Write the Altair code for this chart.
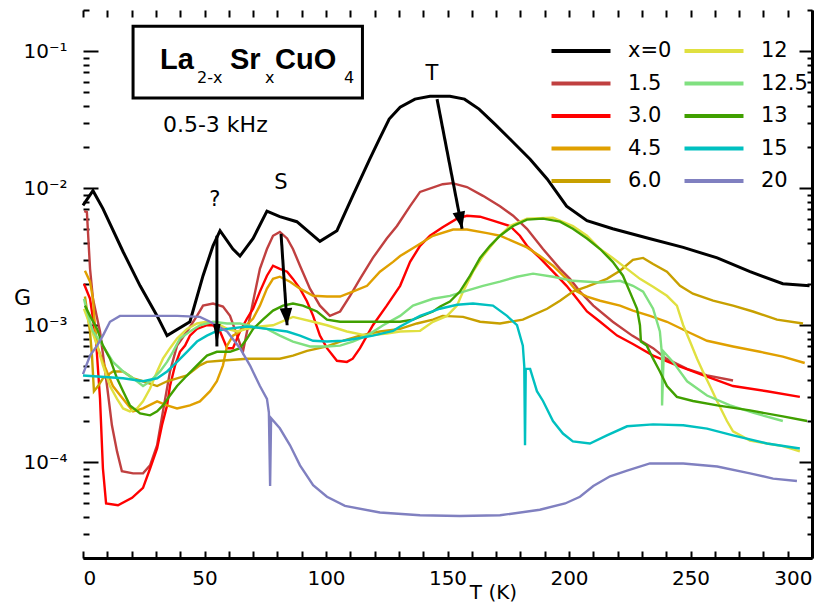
import altair as alt
import pandas as pd

# ---- series data: (T in K, G) ----
S_X0 = [(0,0.0075),(4.1,0.0096),(8.2,0.0071),(16.5,0.00344),(23.5,0.00194),(30.5,0.00117),(34.6,0.00084),(44,0.00106),(49.4,0.0023),(53.5,0.0038),(56.4,0.0049),(61.7,0.0036),(64.6,0.0032),(70,0.0043),(75.7,0.0068),(81,0.0062),(88,0.0057),(97.5,0.0041),(104.5,0.0049),(111,0.0088),(118,0.0163),(122,0.0229),(126,0.032),(130.5,0.039),(136.6,0.0447),(142.8,0.047),(151,0.047),(157,0.0447),(163,0.0378),(169.5,0.0294),(175.7,0.0229),(184,0.0163),(191,0.0117),(199,0.0074),(207.4,0.0058),(218,0.00506),(233,0.0043),(247,0.0037),(261,0.0031),(274.5,0.00246),(288,0.00201),(299,0.00194)]
S_1_5 = [(0.5,0.0068),(1.6,0.0067),(2.2,0.0043),(2.9,0.00258),(4.1,0.00156),(7,0.0009),(9.9,0.00036),(11.9,0.000186),(14,0.00012),(16,8.6e-5),(20.6,8.3e-5),(24.7,8.3e-5),(27.6,9.5e-5),(30.5,1.33e-4),(32.9,2.35e-4),(35.8,4.6e-4),(38.7,7.1e-4),(42.8,9.0e-4),(46.9,0.00117),(49.4,0.00139),(53.5,0.00144),(57.6,0.00137),(60.5,0.00117),(63.4,0.00084),(65.8,6.4e-4),(67.5,0.0009),(70,0.00149),(72.8,0.00258),(75.7,0.0036),(78.2,0.0045),(81,0.0048),(84,0.0043),(86.4,0.0036),(89.3,0.00272),(93.4,0.00185),(97.5,0.00139),(101.6,0.00117),(105.8,0.00126),(109.9,0.00164),(114,0.00218),(119.3,0.0031),(125,0.0043),(129.2,0.0053),(134.6,0.0074),(138.7,0.0094),(148,0.0107),(152,0.0109),(158,0.0102),(164.6,0.0088),(171.6,0.0074),(177,0.0063),(182.7,0.00506),(189.3,0.0036),(196.3,0.00258),(200.4,0.00218),(204.5,0.00176),(210,0.00139),(218,0.00106),(226,0.00084),(234.6,6.8e-4),(240,5.7e-4),(248.6,4.8e-4),(256.8,4.3e-4),(267.5,3.95e-4)]
S_3_0 = [(0.4,0.00201),(2.9,0.00156),(5.3,0.0008),(7,2.92e-4),(8.2,9.0e-5),(9.5,5.0e-5),(14.4,4.85e-5),(20.2,5.5e-5),(24.7,6.5e-5),(27.6,9.0e-5),(30.5,1.26e-4),(32.5,1.86e-4),(34.6,2.6e-4),(35.8,3.6e-4),(37.9,5.1e-4),(39.9,6.4e-4),(42,7.1e-4),(44,8.4e-4),(46.9,9.4e-4),(51,0.001),(53.5,0.001),(56.4,9.0e-4),(59.3,6.8e-4),(61.7,6.8e-4),(64.6,9.0e-4),(67.5,0.00112),(70,0.00132),(72.8,0.00176),(75.7,0.0023),(78.2,0.00272),(81,0.00258),(84,0.00246),(86.4,0.00218),(89.3,0.00185),(92.2,0.00149),(94.7,0.00117),(97.5,8.4e-4),(100.4,6.8e-4),(104.5,5.5e-4),(108.6,5.4e-4),(111,5.7e-4),(114,6.8e-4),(119.3,0.001),(125,0.00139),(130.5,0.00194),(134.6,0.0029),(138.7,0.0038),(142.8,0.0045),(148,0.0052),(153.9,0.006),(158,0.0063),(163.4,0.0062),(168.7,0.0058),(175.7,0.0053),(179.8,0.0045),(182.7,0.0038),(188,0.0031),(195,0.0023),(199,0.00194),(203.3,0.00156),(207.4,0.00126),(212.8,0.00106),(219.8,8.4e-4),(226.3,7.3e-4),(234.6,6.0e-4),(244.4,5.1e-4),(254,4.4e-4),(267.5,3.6e-4),(281.5,3.3e-4),(295,3.0e-4)]
S_4_5 = [(0.8,0.0025),(2.9,0.00208),(4.1,0.00156),(4.9,0.001),(5.8,7.1e-4),(8.2,5.4e-4),(12.3,3.6e-4),(16.5,2.9e-4),(20.6,2.35e-4),(24.7,2.47e-4),(30.5,2.78e-4),(34.6,2.6e-4),(38.7,2.47e-4),(44,2.6e-4),(48.1,2.78e-4),(52.3,3.3e-4),(55.1,3.9e-4),(57.6,5.1e-4),(59.3,7.1e-4),(61.7,8.4e-4),(64.6,9.0e-4),(70,0.00112),(72.8,0.00139),(75.7,0.00185),(78.2,0.00218),(81,0.00226),(85.2,0.00208),(89.3,0.00185),(94.7,0.00164),(100.4,0.00162),(105.8,0.00162),(111,0.00176),(116.9,0.00194),(122.2,0.00246),(127.6,0.0029),(130.5,0.0032),(137.4,0.0038),(144,0.0045),(152.3,0.005),(158,0.005),(166.3,0.0047),(171.6,0.0045),(177,0.0041),(182.7,0.0037),(188,0.0032),(193.4,0.00272),(199,0.00218),(203.3,0.00176),(207.4,0.00162),(212.8,0.00151),(221,0.00139),(226.3,0.00128),(233.3,0.00117),(240.3,0.00106),(248.6,9.0e-4),(256.8,7.7e-4),(267.5,7.0e-4),(278.6,6.4e-4),(288,5.9e-4),(297,5.3e-4)]
S_6_0 = [(0.8,0.00162),(2.9,8.9e-4),(3.7,6.0e-4),(4.5,3.3e-4),(6.2,3.6e-4),(8.2,4.1e-4),(12.3,4.6e-4),(16.5,4.6e-4),(20.6,4.1e-4),(24.7,3.9e-4),(30.5,3.6e-4),(34.6,3.9e-4),(38.7,4.1e-4),(42.8,4.3e-4),(48.1,5.1e-4),(51,5.4e-4),(56.4,5.5e-4),(67.5,5.7e-4),(81,5.7e-4),(86.4,6.0e-4),(92.2,6.5e-4),(100.4,7.0e-4),(105.8,7.6e-4),(114,8.4e-4),(122.2,9.0e-4),(130.5,9.4e-4),(137.4,0.00103),(144,0.0011),(148,0.00117),(156.4,0.00115),(163.4,0.00106),(171.6,0.00103),(181,0.0011),(191,0.00132),(196.3,0.00151),(201.6,0.00176),(207.4,0.00191),(215.6,0.00218),(221,0.0025),(226.3,0.003),(230.5,0.0031),(234.6,0.0028),(240.3,0.00246),(245.7,0.00194),(251,0.0017),(259.3,0.00151),(267.5,0.00139),(275.7,0.00126),(285.6,0.0011),(296.3,0.00103)]
S_12 = [(0.4,0.00132),(2.9,0.001),(5.8,7.1e-4),(8.2,5.1e-4),(11.1,3.6e-4),(14,2.9e-4),(16.5,2.47e-4),(19.3,2.35e-4),(22.2,2.47e-4),(24.7,2.78e-4),(27.6,3.45e-4),(30.5,4.6e-4),(32.9,5.7e-4),(35.8,6.8e-4),(38.7,8.0e-4),(42.8,9.4e-4),(46.9,0.00103),(51,0.00106),(55.1,0.00103),(59.3,9.4e-4),(63.4,9.0e-4),(67.5,9.4e-4),(72.8,9.8e-4),(78.2,0.001),(86.4,0.00115),(94.7,0.00106),(100.4,0.001),(108.6,9.0e-4),(116.9,8.4e-4),(125,8.7e-4),(130.5,9.0e-4),(138.7,9.1e-4),(144,0.00106),(149.8,0.00117),(153.9,0.00139),(156.4,0.00176),(160.5,0.00246),(164.6,0.0032),(170.4,0.0043),(175.7,0.0053),(182.7,0.006),(193.4,0.0061),(201.6,0.0053),(207.4,0.0045),(212.8,0.0036),(218,0.0031),(223.9,0.00258),(229.2,0.00218),(234.6,0.00191),(240.3,0.00164),(244.4,0.00139),(247,0.001),(249.8,7.6e-4),(252.7,5.7e-4),(255.1,4.6e-4),(258,3.6e-4),(261,2.78e-4),(265,2.0e-4),(267.5,1.68e-4),(274.5,1.44e-4),(281.5,1.37e-4),(288,1.31e-4),(295,1.2e-4)]
S_12_5 = [(0.4,0.00156),(1.6,0.00126),(4.1,9.0e-4),(8.2,7.1e-4),(12.3,5.4e-4),(16.5,4.6e-4),(20.6,4.1e-4),(24.7,3.6e-4),(27.6,3.9e-4),(31.7,4.6e-4),(34.6,5.4e-4),(37,6.4e-4),(39.9,8.0e-4),(44,9.0e-4),(48.1,0.001),(53.5,0.00106),(59.3,0.00103),(64.6,0.00103),(70,9.8e-4),(75.7,9.4e-4),(81,8.4e-4),(86.4,7.6e-4),(93.4,7.0e-4),(100.4,7.0e-4),(105.8,7.1e-4),(111,7.6e-4),(116.9,8.4e-4),(123.5,0.001),(130.5,0.00117),(135.8,0.00139),(144,0.00156),(151,0.00164),(158,0.00179),(164.6,0.00194),(171.6,0.00208),(178.6,0.00226),(185.2,0.00238),(193.4,0.00226),(201.6,0.00211),(212.8,0.00205),(221,0.00211),(226.3,0.00194),(230.5,0.00176),(234.6,0.00132),(237.4,9.0e-4),(238.3,6.0e-4),(238.3,2.6e-4),(239,6.4e-4),(242.8,5.4e-4),(248.6,3.9e-4),(256.8,3.07e-4),(266.3,2.6e-4),(275.7,2.3e-4),(288,2.0e-4)]
S_13 = [(0.8,0.00139),(2.9,0.00117),(5.8,9.4e-4),(8.2,7.1e-4),(11.1,5.7e-4),(14,4.1e-4),(16.5,3.3e-4),(19.3,2.6e-4),(23.5,2.27e-4),(27.6,2.2e-4),(30.5,2.35e-4),(32.9,2.6e-4),(35.8,3.07e-4),(38.7,3.6e-4),(42.8,4.3e-4),(46.9,5.1e-4),(51,6.0e-4),(55.1,6.4e-4),(60.5,6.4e-4),(64.6,6.8e-4),(67.5,8.0e-4),(70,9.4e-4),(74,0.0011),(78.2,0.00128),(82.3,0.00139),(86.4,0.00144),(90.5,0.00139),(96.3,0.00126),(100.4,0.0011),(105.8,0.00106),(122.2,0.00106),(130.5,0.00106),(135.8,0.0011),(144,0.00126),(147,0.00137),(151,0.00149),(155.1,0.00176),(159.3,0.0023),(163.4,0.0031),(167.5,0.0038),(171.6,0.0045),(177,0.0053),(182.7,0.0059),(189.3,0.006),(196.3,0.0057),(201.6,0.00506),(207.4,0.0043),(212.8,0.0036),(218,0.0029),(222.2,0.0023),(225,0.00176),(228,0.00132),(229.2,0.001),(229.6,7.6e-4),(232,7.1e-4),(234.6,5.7e-4),(237.4,4.6e-4),(240.3,3.6e-4),(244.4,3.0e-4),(251,2.8e-4),(261,2.6e-4),(274.5,2.39e-4),(288,2.16e-4),(298,2.0e-4)]
S_15 = [(0,4.3e-4),(16.5,4.1e-4),(24.7,3.9e-4),(30.5,4.1e-4),(34.6,4.6e-4),(38.7,5.4e-4),(42.8,6.4e-4),(46.9,7.6e-4),(51,8.4e-4),(55.1,9.1e-4),(59.3,9.4e-4),(67.5,9.8e-4),(75.7,9.4e-4),(84,9.0e-4),(89.3,8.4e-4),(94.7,7.7e-4),(100.4,7.6e-4),(107,7.7e-4),(112.8,8.0e-4),(119.3,8.4e-4),(127.6,9.1e-4),(130.5,9.8e-4),(138.7,0.00117),(146.9,0.00132),(153.9,0.00141),(160.5,0.00144),(168.7,0.00139),(174.5,0.00117),(178.6,0.001),(181,7.1e-4),(181.6,5.0e-4),(181.9,1.33e-4),(182.2,4.8e-4),(184,4.8e-4),(186.8,3.3e-4),(189.3,2.8e-4),(193.4,2.0e-4),(197.5,1.62e-4),(201.6,1.42e-4),(208.6,1.37e-4),(215.6,1.57e-4),(223.9,1.83e-4),(234.6,1.89e-4),(247,1.86e-4),(256.8,1.76e-4),(267.5,1.57e-4),(281.5,1.37e-4),(295,1.26e-4)]
S_20 = [(0,4.4e-4),(2.9,6.0e-4),(5.8,7.1e-4),(8.2,8.4e-4),(11.1,0.00106),(15.2,0.00117),(24.7,0.00117),(38.7,0.00117),(48.1,0.00115),(52.3,0.00106),(59.3,9.0e-4),(64.6,6.8e-4),(68.7,5.1e-4),(72.8,3.6e-4),(75.7,2.9e-4),(76.5,2.3e-4),(77,6.7e-5),(77.4,2.1e-4),(81,1.77e-4),(85.2,1.33e-4),(89.3,9.5e-5),(94.7,6.8e-5),(100.4,5.6e-5),(107.8,4.8e-5),(122.2,4.3e-5),(138.7,4.1e-5),(155,4.05e-5),(171.6,4.1e-5),(188,4.5e-5),(198.4,5.0e-5),(204.5,5.6e-5),(210,6.7e-5),(216.9,7.9e-5),(223.9,8.7e-5),(233.3,9.8e-5),(247,9.8e-5),(261,9.3e-5),(274.5,8.3e-5),(284,7.6e-5),(293.8,7.3e-5)]

SERIES_NAMES = ["x=0", "1.5", "3.0", "4.5", "6.0", "12", "12.5", "13", "15", "20"]
SERIES_DATA = [S_X0, S_1_5, S_3_0, S_4_5, S_6_0, S_12, S_12_5, S_13, S_15, S_20]
SERIES_COLORS = ["#000000", "#c04040", "#ff0000", "#e0a000", "#c8a000",
                 "#e0e040", "#80e080", "#40a000", "#00c0c0", "#8080c0"]

# axis values
X_LABELS = [0, 50, 100, 150, 200, 250, 300]
X_TICKS = list(range(0, 301, 10))
Y_DECADES = [1e-4, 1e-3, 1e-2, 1e-1]
Y_TICKS = [m * 10.0 ** e for e in range(-5, 0) for m in range(1, 10)]
Y_TICKS = [v for v in Y_TICKS if 1.99e-5 <= v <= 0.201]

# annotations (data coordinates)
ARROW_T1 = [55.1, 81.5, 145.7]
ARROW_G1 = [0.0045, 0.00465, 0.0447]
ARROW_T2 = [55.1, 84.0, 156.0]
ARROW_G2 = [7.0e-4, 0.001, 0.00506]
HEAD_ANGLE = [0, 356, 349]
HEAD_SHAPE = ["M-0.4,-2.5L0.4,-2.5L0,0Z", "M-0.7,-1.9L0.7,-1.9L0,0Z", "M-0.7,-1.9L0.7,-1.9L0,0Z"]
PEAK_LABELS = ["?", "S", "T"]
PEAK_T = [54.3, 81.5, 143.6]
PEAK_G = [0.0082, 0.0109, 0.068]
BOX_T = [20.6, 115.0]
BOX_G = [0.152, 0.0455]
FORMULA_MAIN = ["La", "Sr", "CuO"]
FORMULA_MAIN_T = [31.7, 60.5, 79.0]
FORMULA_MAIN_G = [0.074, 0.074, 0.074]
FORMULA_SUB = ["2-x", "x", "4"]
FORMULA_SUB_T = [46.9, 74.9, 107.4]
FORMULA_SUB_G = [0.0590, 0.0590, 0.0590]
FREQ = "0.5-3 kHz"
FREQ_T, FREQ_G = 32.9, 0.0289

rows = []
for name, pts in zip(SERIES_NAMES, SERIES_DATA):
    for i, (t, g) in enumerate(pts):
        rows.append({"series": name, "T": t, "G": g, "i": i})
df = pd.DataFrame(rows)

arrows = pd.DataFrame({"t1": ARROW_T1, "g1": ARROW_G1, "t2": ARROW_T2, "g2": ARROW_G2,
                       "angle": HEAD_ANGLE, "shape": HEAD_SHAPE})
peaks = pd.DataFrame({"label": PEAK_LABELS, "t": PEAK_T, "g": PEAK_G})
box = pd.DataFrame({"t1": [BOX_T[0]], "t2": [BOX_T[1]], "g1": [BOX_G[0]], "g2": [BOX_G[1]]})
f_main = pd.DataFrame({"label": FORMULA_MAIN, "t": FORMULA_MAIN_T, "g": FORMULA_MAIN_G})
f_sub = pd.DataFrame({"label": FORMULA_SUB, "t": FORMULA_SUB_T, "g": FORMULA_SUB_G})
freq = pd.DataFrame({"label": [FREQ], "t": [FREQ_T], "g": [FREQ_G]})

FONT = "DejaVu Sans"
BOLD_FONT = "Liberation Sans"
W, H = 729, 548
xs = alt.Scale(domain=[0, 300], nice=False)
ys = alt.Scale(type="log", domain=[2e-5, 0.2], nice=False)

major_test = "abs(log(datum.value)/LN10 - round(log(datum.value)/LN10)) < 0.01"
y_label_expr = ("round(log(datum.value)/LN10) == -1 ? '10⁻¹' : "
                "round(log(datum.value)/LN10) == -2 ? '10⁻²' : "
                "round(log(datum.value)/LN10) == -3 ? '10⁻³' : "
                "round(log(datum.value)/LN10) == -4 ? '10⁻⁴' : ''")

# axes
ax_x_labels = alt.Axis(values=X_LABELS, ticks=False, domain=True, domainColor="black", domainWidth=3,
                       grid=False, labelFont=FONT, labelFontSize=20, labelColor="black", labelPadding=10,
                       format="d", title="T (K)", titleFont=FONT, titleFontSize=20, titleFontWeight="normal",
                       titleColor="black", titleX=410, titleY=34, titleBaseline="middle", titleAlign="center")
ay_labels = alt.Axis(values=Y_DECADES, ticks=False, domain=False, grid=False, labelExpr=y_label_expr,
                     labelFont=FONT, labelFontSize=20, labelColor="black", labelPadding=16,
                     title="G", titleAngle=0, titleFont=FONT, titleFontSize=22, titleFontWeight="normal",
                     titleColor="black", titleX=-61, titleY=287, titleAlign="center", titleBaseline="middle")
ax_bottom_ticks = alt.Axis(orient="top", offset=-H, values=X_TICKS, labels=False, domain=False, grid=False,
                           tickSize=7, tickWidth=2, tickColor="black", title=None)
ay_left_ticks = alt.Axis(orient="right", offset=-W, values=Y_TICKS, labels=False, domain=False, grid=False,
                         tickSize={"condition": {"test": major_test, "value": 15}, "value": 6},
                         tickWidth=2, tickColor="black", title=None)
ax_top_ticks = alt.Axis(orient="bottom", offset=-H, values=X_TICKS, labels=False, domain=False, grid=False,
                        tickSize=7, tickWidth=2, tickColor="black", title=None)
ay_right = alt.Axis(orient="left", offset=-W, values=Y_TICKS, labels=False, domain=True, domainColor="black",
                    domainWidth=3, grid=False,
                    tickSize={"condition": {"test": major_test, "value": 13}, "value": 5},
                    tickWidth=2, tickColor="black", title=None)

# legend symbol: a line path extending beyond the unit box so the row height stays small
legend = alt.Legend(title=None, orient="none", legendX=481, legendY=24, columns=2,
                    symbolType="M-2,0H2", symbolSize=870, symbolStrokeWidth=4,
                    labelFont=FONT, labelFontSize=21, labelColor="black", labelOffset=30,
                    columnPadding=4, rowPadding=5.5, labelBaseline="middle")

curves = alt.Chart(df).mark_line().encode(
    x=alt.X("T:Q", scale=xs, axis=ax_x_labels),
    y=alt.Y("G:Q", scale=ys, axis=ay_labels),
    color=alt.Color("series:N", scale=alt.Scale(domain=SERIES_NAMES, range=SERIES_COLORS), legend=legend),
    strokeWidth=alt.condition("datum.series == 'x=0'", alt.value(3), alt.value(2.4)),
    order="i:Q",
)

arrow_lines = alt.Chart(arrows).mark_rule(color="black", strokeWidth=3).encode(
    x=alt.X("t1:Q", scale=xs, axis=ax_bottom_ticks),
    y=alt.Y("g1:Q", scale=ys, axis=ay_left_ticks),
    x2="t2:Q", y2="g2:Q",
)

arrow_heads = alt.Chart(arrows).mark_point(filled=True, color="black", opacity=1, size=324).encode(
    x=alt.X("t2:Q", scale=xs, axis=ax_top_ticks),
    y=alt.Y("g2:Q", scale=ys, axis=ay_right),
    shape=alt.Shape("shape:N", scale=None),
    angle=alt.Angle("angle:Q", scale=None),
)

peak_text = alt.Chart(peaks).mark_text(font=FONT, fontSize=21, color="black").encode(
    x=alt.X("t:Q", scale=xs, axis=None),
    y=alt.Y("g:Q", scale=ys, axis=None),
    text="label:N",
)

box_rect = alt.Chart(box).mark_rect(fill="white", stroke="black", strokeWidth=3).encode(
    x=alt.X("t1:Q", scale=xs, axis=None), x2="t2:Q",
    y=alt.Y("g1:Q", scale=ys, axis=None), y2="g2:Q",
)

formula_main = alt.Chart(f_main).mark_text(font=BOLD_FONT, fontSize=29, fontWeight="bold", color="black",
                                           align="left", baseline="alphabetic").encode(
    x=alt.X("t:Q", scale=xs, axis=None),
    y=alt.Y("g:Q", scale=ys, axis=None),
    text="label:N",
)

formula_sub = alt.Chart(f_sub).mark_text(font=FONT, fontSize=16, color="black",
                                         align="left", baseline="alphabetic").encode(
    x=alt.X("t:Q", scale=xs, axis=None),
    y=alt.Y("g:Q", scale=ys, axis=None),
    text="label:N",
)

freq_text = alt.Chart(freq).mark_text(font=FONT, fontSize=22, color="black",
                                      align="left", baseline="middle").encode(
    x=alt.X("t:Q", scale=xs, axis=None),
    y=alt.Y("g:Q", scale=ys, axis=None),
    text="label:N",
)

chart = alt.layer(curves, arrow_lines, arrow_heads, peak_text, box_rect,
                  formula_main, formula_sub, freq_text).resolve_axis(
    x="independent", y="independent"
).properties(
    width=W, height=H,
    background="white",
    autosize=alt.AutoSizeParams(type="none"),
    padding={"left": 75, "top": 2, "right": 13, "bottom": 49},
).configure_view(stroke=None)

chart.save("out.html", embed_options={"renderer": "svg", "actions": False})
